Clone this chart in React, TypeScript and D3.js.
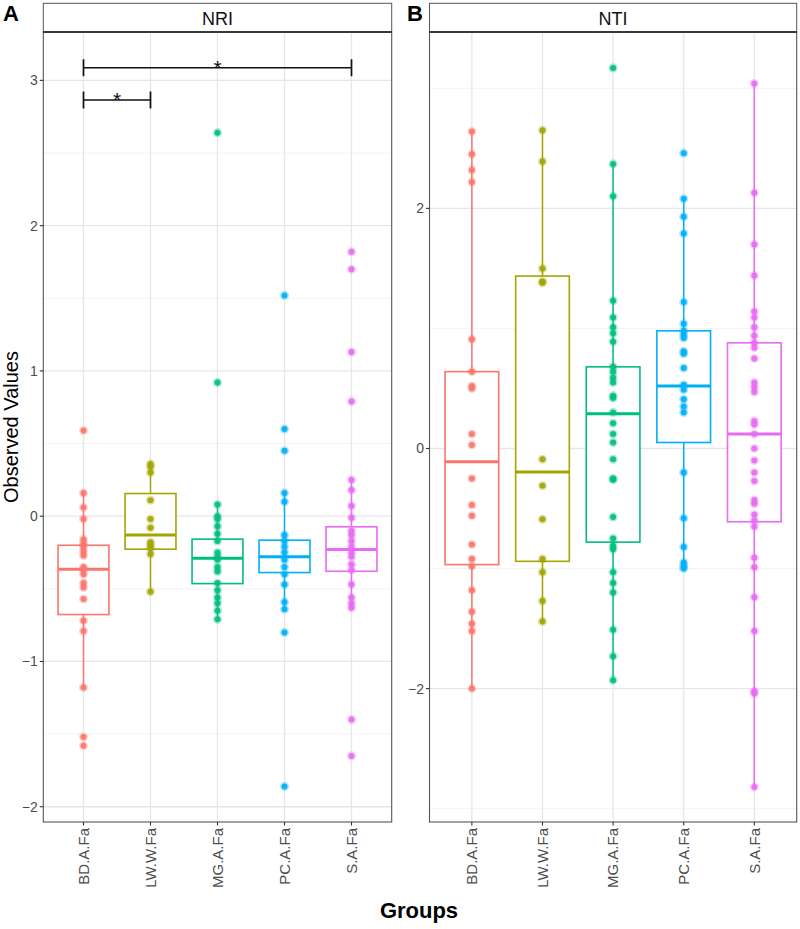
import React from "react";
import * as d3 from "d3";

const categories = ["BD.A.Fa", "LW.W.Fa", "MG.A.Fa", "PC.A.Fa", "S.A.Fa"];
const colors = ["#F8766D", "#A3A500", "#00BF7D", "#00B0F6", "#E76BF3"];

// NRI observed values per group
const nriBD = [0.59, 0.16, 0.06, -0.02, -0.16, -0.19, -0.21, -0.24, -0.27, -0.35, -0.37, -0.4, -0.46, -0.49, -0.57, -0.72, -0.79, -1.18, -1.52, -1.58];
const nriLW = [0.36, 0.34, 0.3, 0.11, -0.02, -0.08, -0.18, -0.2, -0.22, -0.26, -0.52];
const nriMG = [2.64, 0.92, 0.08, 0.0, -0.02, -0.07, -0.12, -0.17, -0.25, -0.28, -0.3, -0.35, -0.38, -0.46, -0.51, -0.56, -0.6, -0.65, -0.71];
const nriPC = [1.52, 0.6, 0.45, 0.16, 0.1, -0.13, -0.17, -0.21, -0.25, -0.3, -0.35, -0.4, -0.47, -0.59, -0.64, -0.8, -1.86];
const nriS = [1.82, 1.7, 1.13, 0.79, 0.25, 0.18, 0.07, -0.01, -0.1, -0.13, -0.17, -0.21, -0.25, -0.28, -0.33, -0.37, -0.47, -0.56, -0.6, -0.63, -1.4, -1.65];

// NRI box statistics
const nriQ3 = [-0.2, 0.156, -0.158, -0.165, -0.073];
const nriMedian = [-0.365, -0.13, -0.29, -0.28, -0.23];
const nriQ1 = [-0.677, -0.227, -0.464, -0.388, -0.379];
const nriWhiskerHi = [0.16, 0.36, 0.08, 0.16, 0.25];
const nriWhiskerLo = [-1.18, -0.52, -0.71, -0.64, -0.63];

// NTI observed values per group
const ntiBD = [2.64, 2.45, 2.32, 2.22, 0.91, 0.64, 0.52, 0.5, 0.12, 0.03, -0.25, -0.47, -0.56, -0.8, -0.92, -0.98, -1.18, -1.36, -1.46, -1.52, -2.0];
const ntiLW = [2.65, 2.39, 1.5, 1.39, 1.38, -0.09, -0.31, -0.59, -0.92, -1.03, -1.27, -1.44];
const ntiMG = [3.17, 2.37, 2.1, 1.23, 1.09, 1.01, 0.96, 0.89, 0.68, 0.64, 0.59, 0.55, 0.44, 0.42, 0.3, 0.21, 0.12, 0.05, -0.09, -0.25, -0.26, -0.57, -0.75, -0.81, -0.84, -1.03, -1.12, -1.2, -1.51, -1.73, -1.93];
const ntiPC = [2.46, 2.08, 1.93, 1.79, 1.22, 1.04, 0.98, 0.95, 0.92, 0.81, 0.79, 0.67, 0.53, 0.49, 0.41, 0.35, 0.3, -0.2, -0.58, -0.82, -0.95, -0.98, -1.0];
const ntiS = [3.04, 2.13, 1.7, 1.44, 1.14, 1.09, 1.01, 0.94, 0.88, 0.84, 0.75, 0.55, 0.51, 0.47, 0.23, 0.2, 0.12, 0.0, -0.1, -0.2, -0.27, -0.43, -0.46, -0.55, -0.6, -0.65, -0.91, -0.99, -1.24, -1.52, -2.02, -2.04, -2.82];

// NTI box statistics
const ntiQ3 = [0.64, 1.436, 0.68, 0.98, 0.88];
const ntiMedian = [-0.11, -0.195, 0.29, 0.52, 0.12];
const ntiQ1 = [-0.967, -0.94, -0.78, 0.05, -0.61];
const ntiWhiskerHi = [2.64, 2.65, 2.37, 2.08, 3.04];
const ntiWhiskerLo = [-2.0, -1.44, -1.93, -0.99, -2.82];

// axes
const nriDomain = [-2.105, 3.333];
const nriTicks = [-2, -1, 0, 1, 2, 3];
const nriMinor = [-1.5, -0.5, 0.5, 1.5, 2.5];
const ntiDomain = [-3.111, 3.469];
const ntiTicks = [-2, 0, 2];
const ntiMinor = [-3, -1, 1, 3];

// significance brackets (NRI)
const sigFrom = [0, 0];
const sigTo = [1, 4];
const sigY = [2.865, 3.087];
const sigLabel = ["*", "*"];

const FONT = "'Liberation Sans', Arial, Helvetica, sans-serif";

type PanelProps = {
  left: number; right: number; top: number; bottom: number; stripTop: number;
  title: string; letter: string; letterX: number;
  groups: number[][]; q1: number[]; med: number[]; q3: number[]; lo: number[]; hi: number[];
  domain: number[]; ticks: number[]; minor: number[];
  sig?: boolean;
};

function Panel(p: PanelProps) {
  const x = d3.scalePoint<string>().domain(categories).range([p.left, p.right]).padding(0.6);
  const y = d3.scaleLinear().domain(p.domain).range([p.bottom, p.top]);
  const step = x.step();
  const bw = step * 0.76;
  return (
    <g>
      {/* letter */}
      <text x={p.letterX} y={21} fontFamily={FONT} fontWeight="bold" fontSize={22} fill="#000">{p.letter}</text>
      {/* strip */}
      <rect x={p.left} y={p.stripTop} width={p.right - p.left} height={p.top - p.stripTop} fill="#fff" stroke="#555" strokeWidth={1} />
      <text x={(p.left + p.right) / 2} y={p.top - 7.5} textAnchor="middle" fontFamily={FONT} fontSize={18} fill="#111">{p.title}</text>
      {/* grid */}
      {p.minor.map((v) => (
        <line key={"mn" + v} x1={p.left} x2={p.right} y1={y(v)} y2={y(v)} stroke="#f0f0f0" strokeWidth={0.8} />
      ))}
      {p.ticks.map((v) => (
        <line key={"mj" + v} x1={p.left} x2={p.right} y1={y(v)} y2={y(v)} stroke="#e6e6e6" strokeWidth={1.3} />
      ))}
      {categories.map((c) => (
        <line key={"vg" + c} x1={x(c)} x2={x(c)} y1={p.top} y2={p.bottom} stroke="#e6e6e6" strokeWidth={1.3} />
      ))}
      {/* boxes */}
      {categories.map((c, i) => {
        const cx = x(c) as number;
        return (
          <g key={"box" + c} stroke={colors[i]} fill="none">
            <line x1={cx} x2={cx} y1={y(p.q3[i])} y2={y(p.hi[i])} strokeWidth={1.5} />
            <line x1={cx} x2={cx} y1={y(p.q1[i])} y2={y(p.lo[i])} strokeWidth={1.5} />
            <rect x={cx - bw / 2} y={y(p.q3[i])} width={bw} height={y(p.q1[i]) - y(p.q3[i])} fill="#fff" strokeWidth={1.6} />
            <line x1={cx - bw / 2} x2={cx + bw / 2} y1={y(p.med[i])} y2={y(p.med[i])} strokeWidth={3} />
          </g>
        );
      })}
      {/* points */}
      {categories.map((c, i) => {
        const cx = x(c) as number;
        return (
          <g key={"pts" + c} fill={colors[i]}>
            {p.groups[i].map((v, j) => (
              <g key={j}>
                <circle cx={cx} cy={y(v)} r={4.6} opacity={0.3} />
                <circle cx={cx} cy={y(v)} r={3} opacity={0.92} />
              </g>
            ))}
          </g>
        );
      })}
      {/* significance */}
      {p.sig &&
        sigFrom.map((f, k) => {
          const x1 = x(categories[f]) as number;
          const x2 = x(categories[sigTo[k]]) as number;
          const yy = y(sigY[k]);
          return (
            <g key={"sig" + k} stroke="#111" strokeWidth={1.7}>
              <line x1={x1} x2={x2} y1={yy} y2={yy} />
              <line x1={x1} x2={x1} y1={yy - 8.5} y2={yy + 8.5} />
              <line x1={x2} x2={x2} y1={yy - 8.5} y2={yy + 8.5} />
              <text x={(x1 + x2) / 2} y={yy + 7} textAnchor="middle" fontFamily={FONT} fontSize={21} fill="#111" stroke="none">{sigLabel[k]}</text>
            </g>
          );
        })}
      {/* panel border */}
      <rect x={p.left} y={p.top} width={p.right - p.left} height={p.bottom - p.top} fill="none" stroke="#555" strokeWidth={1.1} />
      <line x1={p.left} x2={p.right} y1={p.top} y2={p.top} stroke="#222" strokeWidth={1.6} />
      {/* y axis */}
      {p.ticks.map((v) => (
        <g key={"yt" + v}>
          <line x1={p.left - 3.5} x2={p.left} y1={y(v)} y2={y(v)} stroke="#333" strokeWidth={1.1} />
          <text x={p.left - 5.5} y={y(v)} dy="0.35em" textAnchor="end" fontFamily={FONT} fontSize={14} fill="#4d4d4d">
            {v < 0 ? "\u2212" + Math.abs(v) : String(v)}
          </text>
        </g>
      ))}
      {/* x axis */}
      {categories.map((c) => (
        <g key={"xt" + c}>
          <line x1={x(c)} x2={x(c)} y1={p.bottom} y2={p.bottom + 3.5} stroke="#333" strokeWidth={1.1} />
          <text transform={`translate(${x(c)},${p.bottom + 6}) rotate(-90)`} dy="0.35em" textAnchor="end" fontFamily={FONT} fontSize={15} fill="#4d4d4d">{c}</text>
        </g>
      ))}
    </g>
  );
}

export default function App() {
  return (
    <svg width={800} height={929} style={{ position: "absolute", left: 0, top: 0, background: "#fff" }}>
      <rect x={0} y={0} width={800} height={929} fill="#fff" />
      <Panel
        left={43.3} right={391.7} top={32} bottom={822} stripTop={3.3}
        title="NRI" letter="A" letterX={3}
        groups={[nriBD, nriLW, nriMG, nriPC, nriS]}
        q1={nriQ1} med={nriMedian} q3={nriQ3} lo={nriWhiskerLo} hi={nriWhiskerHi}
        domain={nriDomain} ticks={nriTicks} minor={nriMinor} sig
      />
      <Panel
        left={429.5} right={796.7} top={32} bottom={822} stripTop={3.3}
        title="NTI" letter="B" letterX={407}
        groups={[ntiBD, ntiLW, ntiMG, ntiPC, ntiS]}
        q1={ntiQ1} med={ntiMedian} q3={ntiQ3} lo={ntiWhiskerLo} hi={ntiWhiskerHi}
        domain={ntiDomain} ticks={ntiTicks} minor={ntiMinor}
      />
      <text transform="translate(17.5,427) rotate(-90)" textAnchor="middle" fontFamily={FONT} fontSize={20} fill="#000">Observed Values</text>
      <text x={419} y={918} textAnchor="middle" fontFamily={FONT} fontWeight="bold" fontSize={22} fill="#000">Groups</text>
    </svg>
  );
}
